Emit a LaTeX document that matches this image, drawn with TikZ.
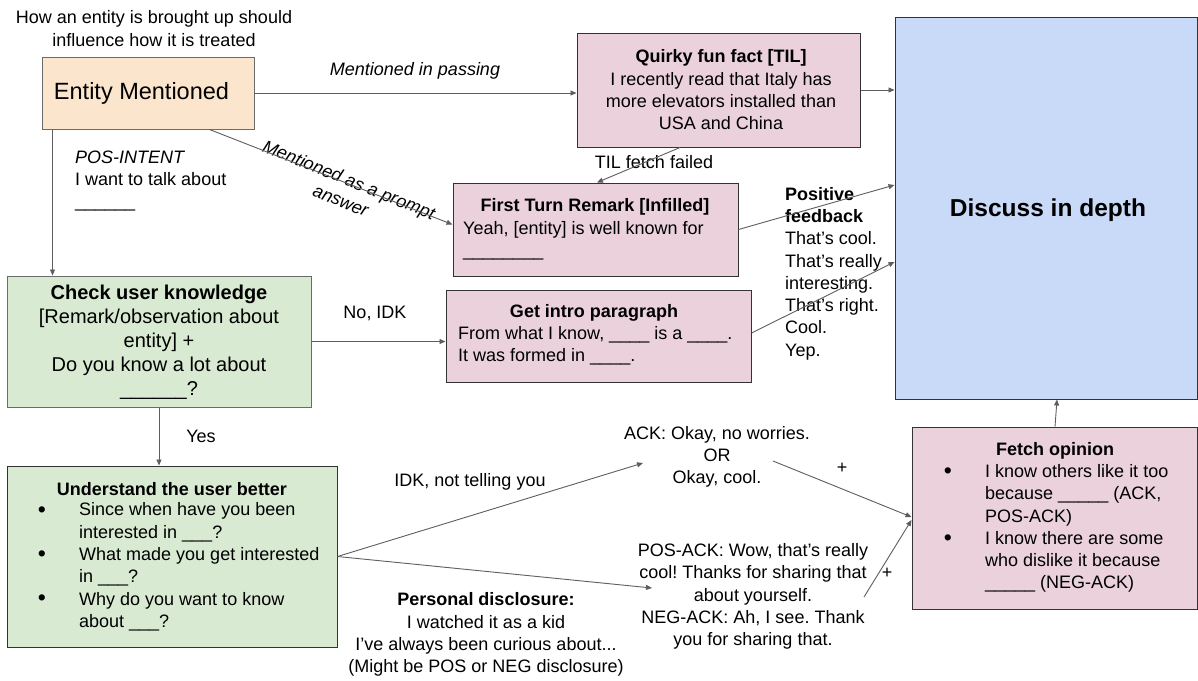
\documentclass[tikz,border=0pt]{standalone}
\usepackage{fontspec}
\setmainfont{Liberation Sans}
\usetikzlibrary{arrows.meta,calc}
\definecolor{peach}{HTML}{FCE5CD}
\definecolor{pinkbox}{HTML}{EAD1DC}
\definecolor{bluebox}{HTML}{C9DAF8}
\definecolor{greenbox}{HTML}{D9EAD3}
\definecolor{lightedge}{HTML}{6B6B6B}
\definecolor{darkedge}{HTML}{333333}
\definecolor{arrowc}{HTML}{5E5E5E}
\newcommand\myfs{\fontsize{18}{22.3}\selectfont}
\frenchspacing
\begin{document}
\begin{tikzpicture}[x=1pt,y=-1pt,
 box/.style={draw, line width=1pt, inner sep=0pt, rectangle},
 txt/.style={inner sep=0pt, font=\myfs},
 bul/.style={inner sep=0pt, font=\fontsize{23}{23}\selectfont},
 arr/.style={draw=arrowc, line width=0.9pt, -{Triangle[length=6pt,width=5pt]}},
]
\fill[white] (0,0) rectangle (1198,680);
\useasboundingbox (0,0) rectangle (1198,680);

% boxes
\node[box, fill=peach, draw=lightedge, minimum width=212pt, minimum height=72pt] (entity) at (148,93) {};
\node[txt, font=\fontsize{23.5}{28}\selectfont] (entitytxt) at (141.5,93) {Entity Mentioned};

\node[box, fill=pinkbox, draw=darkedge, minimum width=283pt, minimum height=114pt] (quirky) at (718.5,90) {};
\node[txt, align=center] (quirkytxt) at (721,90) {\textbf{Quirky fun fact [TIL]}\\I recently read that Italy has\\more elevators installed than\\USA and China};

\node[box, fill=bluebox, draw=darkedge, minimum width=302pt, minimum height=382pt] (discuss) at (1046,208) {};
\node[txt, font=\fontsize{24.5}{29}\selectfont\bfseries] (discusstxt) at (1048,210) {Discuss in depth};

\node[box, fill=pinkbox, draw=darkedge, minimum width=285pt, minimum height=93pt] (first) at (595.5,229.5) {};
\node[txt] (firsttitle) at (595,207) {\textbf{First Turn Remark [Infilled]}};
\node[txt, align=left, anchor=west] (firstbody) at (463,240.5) {Yeah, [entity] is well known for\\\_\_\_\_\_\_\_\_};

\node[box, fill=greenbox, draw=lightedge, minimum width=304pt, minimum height=131pt] (check) at (159,341.5) {};
\node[txt, align=center, font=\fontsize{20}{24}\selectfont] (checktxt) at (159,342) {\textbf{Check user knowledge}\\{[}Remark/observation about\\entity] +\\Do you know a lot about\\\_\_\_\_\_\_?};

\node[box, fill=pinkbox, draw=darkedge, minimum width=305pt, minimum height=92pt] (intro) at (598.5,336) {};
\node[txt] (introtitle) at (594,313) {\textbf{Get intro paragraph}};
\node[txt, align=left, anchor=west] (introbody) at (458,346) {From what I know, \_\_\_\_ is a \_\_\_\_.\\It was formed in \_\_\_\_.};

\node[box, fill=greenbox, draw=darkedge, minimum width=330pt, minimum height=181pt] (understand) at (172,556.5) {};
\node[txt] (undtitle) at (172,489) {\textbf{Understand the user better}};
\node[txt, align=left, anchor=west] (undbody) at (79,567) {Since when have you been\\interested in \_\_\_?\\What made you get interested\\in \_\_\_?\\Why do you want to know\\about \_\_\_?};
\node[bul] (ub1) at (42,512) {\textbullet};
\node[bul] (ub2) at (42,556) {\textbullet};
\node[bul] (ub3) at (42,600) {\textbullet};

\node[box, fill=pinkbox, draw=darkedge, minimum width=285pt, minimum height=182pt] (fetch) at (1054.5,518) {};
\node[txt] (fetchtitle) at (1055,451) {\textbf{Fetch opinion}};
\node[txt, align=left, anchor=west] (fetchbody) at (985,528.5) {I know others like it too\\because \_\_\_\_\_ (ACK,\\POS-ACK)\\I know there are some\\who dislike it because\\\_\_\_\_\_ (NEG-ACK)};
\node[bul] (fb1) at (948,473) {\textbullet};
\node[bul] (fb2) at (948,540) {\textbullet};

% free texts
\node[txt, align=center] (toptxt) at (154,28.5) {How an entity is brought up should\\influence how it is treated};
\node[txt, font=\myfs\itshape] (passing) at (415,71) {Mentioned in passing};
\node[txt, align=center, font=\myfs\itshape, rotate=-22] (prompt) at (345,190) {Mentioned as a prompt\\answer};
\node[txt, align=left, anchor=west] (posintent) at (75,181) {\textit{POS-INTENT}\\I want to talk about\\\_\_\_\_\_\_};
\node[txt] (tilfail) at (654,162) {TIL fetch failed};
\node[txt, align=left, anchor=west] (posfb) at (785,273.5) {\textbf{Positive}\\\textbf{feedback}\\That’s cool.\\That’s really\\interesting.\\That’s right.\\Cool.\\Yep.};
\node[txt] (noidk) at (375,313) {No, IDK};
\node[txt] (yes) at (201,436) {Yes};
\node[txt] (idk) at (470,482) {IDK, not telling you};
\node[txt, align=center] (ack) at (717,457) {ACK: Okay, no worries.\\OR\\Okay, cool.};
\node[txt, align=center] (posack) at (753,596.5) {POS-ACK: Wow, that’s really\\cool! Thanks for sharing that\\about yourself.\\NEG-ACK: Ah, I see. Thank\\you for sharing that.};
\node[txt, align=center] (disclosure) at (486,634.5) {\textbf{Personal disclosure:}\\I watched it as a kid\\I’ve always been curious about...\\(Might be POS or NEG disclosure)};
\node[txt] (plus1) at (842,468) {+};
\node[txt] (plus2) at (887,573) {+};

% connectors
\coordinate (e1) at ($(entity.south west)+(11,0)$);
\coordinate (ackin) at (643,463);
\coordinate (ackout) at (773,461);
\coordinate (posin) at (652,588);
\coordinate (posout) at (864,597);
\draw[arr] (entity.east) -- (entity.east -| quirky.west);
\draw[arr] (quirky.east) -- (quirky.east -| discuss.west);
\draw[arr] ($(quirky.south)+(-38.5,0)$) -- ($(first.north)+(1.5,0)$);
\draw[arr] ($(entity.south east)+(-45,0)$) -- ($(first.west)+(0,-5)$);
\draw[arr] (e1) -- (e1 |- check.north);
\draw[arr] (first.east) -- ($(discuss.west)+(0,-23)$);
\draw[arr] ($(intro.east)+(0,-3)$) -- ($(discuss.west)+(0,54)$);
\draw[arr] (check.east) -- (check.east -| intro.west);
\draw[arr] (check.south) -- (check.south |- understand.north);
\draw[arr] (understand.east) -- (ackin);
\draw[arr] (understand.east) -- (posin);
\draw[arr] (ackout) -- ($(fetch.west)+(0,-1)$);
\draw[arr] (posout) -- ($(fetch.west)+(0,2)$);
\draw[arr] ($(fetch.north)+(0.5,0)$) -- ($(discuss.south)+(11,0)$);
\end{tikzpicture}
\end{document}
